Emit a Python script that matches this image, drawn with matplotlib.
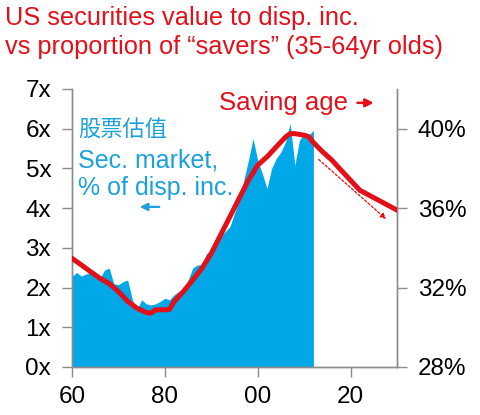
import numpy as np
import matplotlib
matplotlib.use("Agg")
from matplotlib import pyplot as plt

plt.rcParams['font.family'] = ['Liberation Sans', 'Noto Sans CJK SC', 'DejaVu Sans']

# securities market value, multiple of disposable income (left axis)
sec_years = list(range(1960, 2013))
sec_value = [2.28, 2.38, 2.29, 2.34, 2.38, 2.32, 2.23, 2.44, 2.49, 2.10,
             2.07, 2.15, 2.19, 1.69, 1.44, 1.69, 1.59, 1.56, 1.59, 1.65,
             1.73, 1.69, 1.82, 1.90, 1.90, 2.19, 2.49, 2.57, 2.57, 2.86,
             2.90, 3.11, 3.28, 3.41, 3.53, 3.87, 4.20, 4.70, 5.20, 5.75,
             5.20, 4.87, 4.49, 5.00, 5.25, 5.41, 5.67, 6.13, 5.08, 5.71,
             5.87, 5.83, 5.96]

# share of 35-64yr olds in population, % (right axis)
age_years = [1960, 1962, 1964, 1966, 1968, 1970, 1972, 1974, 1976, 1977,
             1978, 1980, 1981, 1982, 1984, 1986, 1988, 1990, 1992, 1994,
             1996, 1998, 2000, 2002, 2004, 2006, 2007, 2008, 2010, 2011,
             2012, 2014, 2016, 2018, 2020, 2022, 2024, 2026, 2028, 2030]
age_share = [33.47, 33.14, 32.80, 32.47, 32.20, 31.80, 31.30, 30.96, 30.74, 30.71,
             30.88, 30.88, 30.90, 31.30, 31.80, 32.38, 32.97, 33.72, 34.64, 35.56,
             36.49, 37.40, 38.16, 38.58, 39.08, 39.58, 39.75, 39.75, 39.67, 39.60,
             39.30, 38.83, 38.41, 37.90, 37.40, 36.90, 36.65, 36.40, 36.15, 35.90]

x_ticks = [1960, 1980, 2000, 2020]
x_labels = ["60", "80", "00", "20"]
left_ticks = list(range(8))
left_labels = [f"{v}x" for v in left_ticks]
right_ticks = [28, 32, 36, 40]
right_labels = [f"{v}%" for v in right_ticks]

blue = "#00A8E8"
blue_txt = "#1BA1DC"
red = "#E3101A"
gray = "#8C8C8C"

fig = plt.figure(figsize=(4.8, 4.15), dpi=100)
ax = fig.add_axes([0.15, 0.1157, 0.677, 0.67])
ax2 = ax.twinx()

ax.fill_between(sec_years, 0, sec_value, color=blue, linewidth=0)
ax2.plot(age_years, age_share, color=red, linewidth=3.6, solid_joinstyle='round', zorder=3)

# projected decline, dashed arrow
ax2.annotate("", xy=(2028.1, 35.36), xytext=(2012.7, 38.54),
             arrowprops=dict(arrowstyle="-|>", color=red, linestyle=(0, (2, 1.5)),
                             linewidth=0.9, mutation_scale=8))

ax.set_xlim(1960, 2030)
ax.set_ylim(0, 7)
ax2.set_ylim(28, 42)

ax.set_xticks(x_ticks)
ax.set_xticklabels(x_labels)
ax.set_yticks(left_ticks)
ax.set_yticklabels(left_labels)
ax2.set_yticks(right_ticks)
ax2.set_yticklabels(right_labels)

for a in (ax, ax2):
    a.spines['top'].set_visible(False)
    for s in ('left', 'right', 'bottom'):
        a.spines[s].set_color(gray)
        a.spines[s].set_linewidth(1.0)
    a.tick_params(colors=gray, labelcolor="black", labelsize=17.5, length=7, width=1.0, pad=8)
ax.tick_params(axis='x', pad=7)
ax.set_zorder(ax2.get_zorder() - 1)
ax2.patch.set_visible(False)

fig.text(0.01, 0.957, "US securities value to disp. inc.", color=red, fontsize=18.3, va='center')
fig.text(0.01, 0.887, "vs proportion of \u201csavers\u201d (35-64yr olds)", color=red, fontsize=18.3, va='center')

ax.text(1961.3, 5.97, "股票估值", color=blue_txt, fontsize=16, va='center')
ax.text(1961.3, 5.21, "Sec. market,", color=blue_txt, fontsize=18, va='center')
ax.text(1961.3, 4.51, "% of disp. inc.", color=blue_txt, fontsize=18, va='center')
ax.annotate("", xy=(1974, 4.03), xytext=(1979.4, 4.03),
            arrowprops=dict(arrowstyle="-|>", color=blue_txt, linewidth=1.6, mutation_scale=11))

ax.text(1991.6, 6.65, "Saving age", color=red, fontsize=18.5, va='center')
ax.annotate("", xy=(2025.6, 6.65), xytext=(2020.9, 6.65),
            arrowprops=dict(arrowstyle="-|>", color=red, linewidth=1.8, mutation_scale=12))

fig.savefig("out.png", dpi=100)
